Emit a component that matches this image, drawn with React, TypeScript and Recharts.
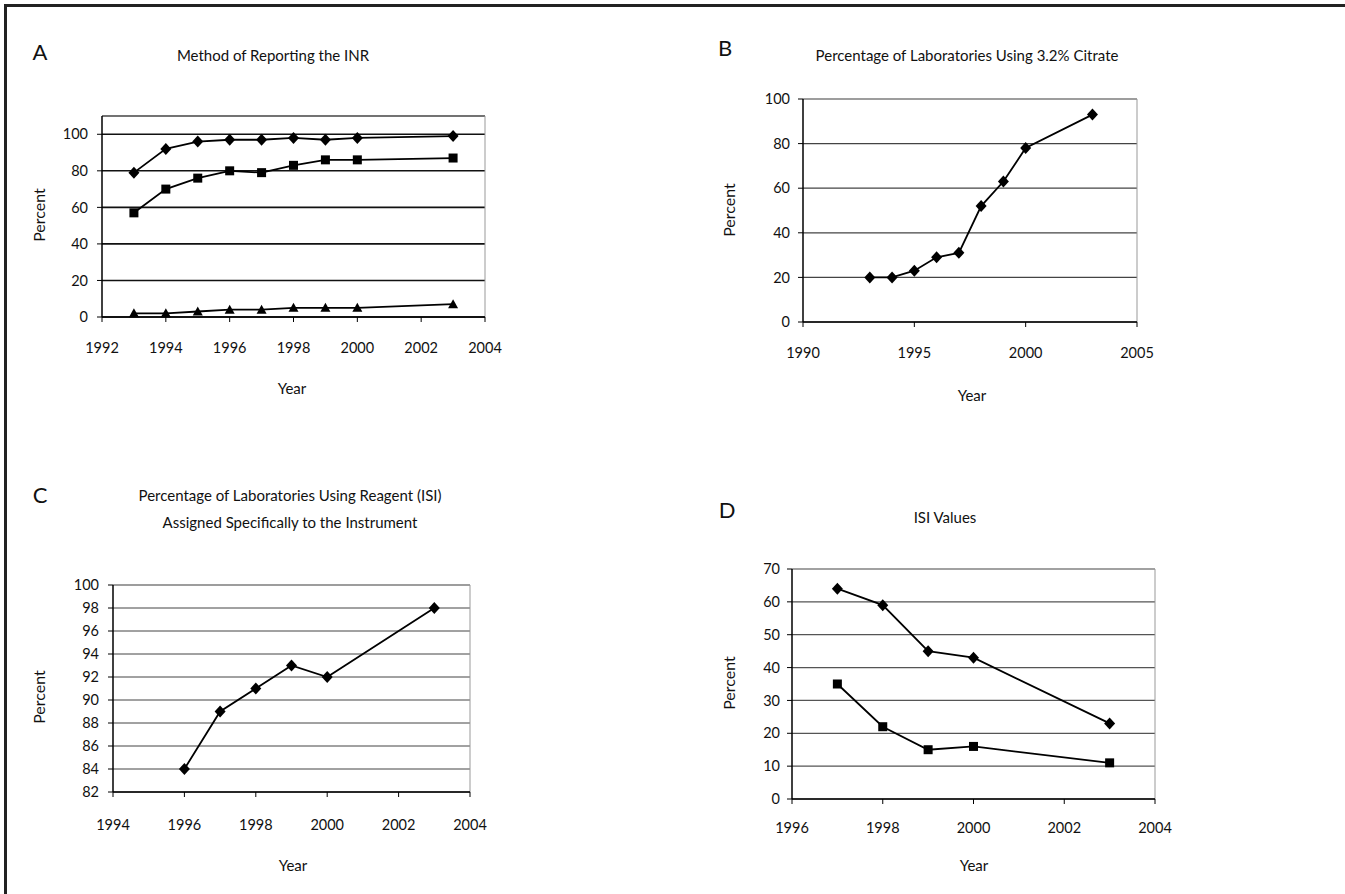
import React from 'react'
import { LineChart, Line, XAxis, YAxis, CartesianGrid, ReferenceLine } from 'recharts'

// Panel A: method of reporting the INR
const inrYears = [1993, 1994, 1995, 1996, 1997, 1998, 1999, 2000, 2003]
const inrDiamond = [79, 92, 96, 97, 97, 98, 97, 98, 99]
const inrSquare = [57, 70, 76, 80, 79, 83, 86, 86, 87]
const inrTriangle = [2, 2, 3, 4, 4, 5, 5, 5, 7]
const inrXTicks = [1992, 1994, 1996, 1998, 2000, 2002, 2004]
const inrYTicks = [0, 20, 40, 60, 80, 100]

// Panel B: 3.2% citrate
const citrateYears = [1993, 1994, 1995, 1996, 1997, 1998, 1999, 2000, 2003]
const citrateValues = [20, 20, 23, 29, 31, 52, 63, 78, 93]
const citrateXTicks = [1990, 1995, 2000, 2005]
const citrateYTicks = [0, 20, 40, 60, 80, 100]

// Panel C: reagent ISI assigned to the instrument
const reagentYears = [1996, 1997, 1998, 1999, 2000, 2003]
const reagentValues = [84, 89, 91, 93, 92, 98]
const reagentXTicks = [1994, 1996, 1998, 2000, 2002, 2004]
const reagentYTicks = [82, 84, 86, 88, 90, 92, 94, 96, 98, 100]

// Panel D: ISI values
const isiYears = [1997, 1998, 1999, 2000, 2003]
const isiDiamond = [64, 59, 45, 43, 23]
const isiSquare = [35, 22, 15, 16, 11]
const isiXTicks = [1996, 1998, 2000, 2002, 2004]
const isiYTicks = [0, 10, 20, 30, 40, 50, 60, 70]

const inrData = inrYears.map((year, i) => ({
  year,
  diamond: inrDiamond[i],
  square: inrSquare[i],
  triangle: inrTriangle[i],
}))
const citrateData = citrateYears.map((year, i) => ({ year, diamond: citrateValues[i] }))
const reagentData = reagentYears.map((year, i) => ({ year, diamond: reagentValues[i] }))
const isiData = isiYears.map((year, i) => ({ year, diamond: isiDiamond[i], square: isiSquare[i] }))

const FONT = 'Lato, "Open Sans", sans-serif'

const renderDiamond = (props: any) => {
  const { cx, cy, index } = props
  if (cx == null || cy == null) return <g key={index} />
  return <path key={index} d={`M${cx},${cy - 6}L${cx + 5.5},${cy}L${cx},${cy + 6}L${cx - 5.5},${cy}Z`} fill="#000" />
}

const renderSquare = (props: any) => {
  const { cx, cy, index } = props
  if (cx == null || cy == null) return <g key={index} />
  return <rect key={index} x={cx - 4.5} y={cy - 4.5} width={9} height={9} fill="#000" />
}

const renderTriangle = (props: any) => {
  const { cx, cy, index } = props
  if (cx == null || cy == null) return <g key={index} />
  return <path key={index} d={`M${cx},${cy - 5}L${cx + 5},${cy + 4}L${cx - 5},${cy + 4}Z`} fill="#000" />
}

const markers: Record<string, (p: any) => React.ReactElement> = {
  diamond: renderDiamond,
  square: renderSquare,
  triangle: renderTriangle,
}

type Box = { left: number; top: number; right: number; bottom: number }

function Panel(props: {
  box: Box
  data: any[]
  series: string[]
  xDomain: [number, number]
  xTicks: number[]
  yDomain: [number, number]
  yTicks: number[]
  gridColor: string
  gridWidth: number
  yTickMargin: number
  xTickMargin: number
}) {
  const { box, data, series, xDomain, xTicks, yDomain, yTicks } = props
  const yAxisW = 50
  const xAxisH = 40
  const m = { left: 20, top: 20, right: 20, bottom: 10 }
  const width = box.right - box.left + m.left + m.right + yAxisW
  const height = box.bottom - box.top + m.top + m.bottom + xAxisH
  const tick = { fill: '#111', fontSize: 14.5, fontFamily: FONT }
  return (
    <div style={{ position: 'absolute', left: box.left - m.left - yAxisW, top: box.top - m.top }}>
      <LineChart width={width} height={height} data={data} margin={m}>
        <CartesianGrid vertical={false} stroke={props.gridColor} strokeWidth={props.gridWidth} />
        <ReferenceLine y={yDomain[1]} stroke="#999" strokeWidth={1} />
        <ReferenceLine x={xDomain[1]} stroke="#999" strokeWidth={1} />
        <XAxis
          type="number"
          dataKey="year"
          domain={xDomain}
          ticks={xTicks}
          height={xAxisH}
          tick={tick}
          tickSize={5}
          tickMargin={props.xTickMargin}
          tickLine={{ stroke: '#000' }}
          axisLine={{ stroke: '#000', strokeWidth: 1.5 }}
          interval={0}
        />
        <YAxis
          type="number"
          domain={yDomain}
          ticks={yTicks}
          width={yAxisW}
          tick={tick}
          tickSize={5}
          tickMargin={props.yTickMargin}
          tickLine={{ stroke: '#000' }}
          axisLine={{ stroke: '#000', strokeWidth: 1.5 }}
          interval={0}
        />
        {series.map((s) => (
          <Line
            key={s}
            type="linear"
            dataKey={s}
            stroke="#000"
            strokeWidth={1.8}
            dot={markers[s]}
            activeDot={false}
            isAnimationActive={false}
          />
        ))}
      </LineChart>
    </div>
  )
}

function Txt(props: { x: number; y: number; size?: number; rotate?: boolean; children: React.ReactNode }) {
  return (
    <div
      style={{
        position: 'absolute',
        left: props.x,
        top: props.y,
        transform: `translate(-50%, -50%)${props.rotate ? ' rotate(-90deg)' : ''}`,
        fontFamily: FONT,
        fontSize: props.size ?? 15,
        color: '#111',
        whiteSpace: 'nowrap',
        lineHeight: 1,
      }}
    >
      {props.children}
    </div>
  )
}

export default function App() {
  return (
    <div style={{ position: 'absolute', left: 0, top: 0, width: 1345, height: 894, background: '#fff', overflow: 'hidden' }}>
      <div
        style={{
          position: 'absolute',
          left: 4,
          top: 4,
          right: 0,
          bottom: 0,
          borderLeft: '3px solid #222',
          borderTop: '3px solid #222',
        }}
      />

      {/* A */}
      <Txt x={40} y={52} size={22}>A</Txt>
      <Txt x={273} y={55}>Method of Reporting the INR</Txt>
      <Txt x={39} y={215} size={16} rotate>Percent</Txt>
      <Txt x={292} y={388}>Year</Txt>
      <Panel
        box={{ left: 102, top: 116, right: 485, bottom: 317 }}
        data={inrData}
        series={['diamond', 'square', 'triangle']}
        xDomain={[1992, 2004]}
        xTicks={inrXTicks}
        yDomain={[0, 110]}
        yTicks={inrYTicks}
        gridColor="#111"
        gridWidth={1.6}
        yTickMargin={9}
        xTickMargin={21}
      />

      {/* B */}
      <Txt x={725} y={48} size={22}>B</Txt>
      <Txt x={967} y={55}>Percentage of Laboratories Using 3.2% Citrate</Txt>
      <Txt x={729} y={210} size={16} rotate>Percent</Txt>
      <Txt x={972} y={395}>Year</Txt>
      <Panel
        box={{ left: 803, top: 99, right: 1137, bottom: 322 }}
        data={citrateData}
        series={['diamond']}
        xDomain={[1990, 2005]}
        xTicks={citrateXTicks}
        yDomain={[0, 100]}
        yTicks={citrateYTicks}
        gridColor="#444"
        gridWidth={1.2}
        yTickMargin={8}
        xTickMargin={21}
      />

      {/* C */}
      <Txt x={40} y={495} size={22}>C</Txt>
      <Txt x={290} y={495}>Percentage of Laboratories Using Reagent (ISI)</Txt>
      <Txt x={290} y={522}>Assigned Specifically to the Instrument</Txt>
      <Txt x={39} y={697} size={16} rotate>Percent</Txt>
      <Txt x={293} y={865}>Year</Txt>
      <Panel
        box={{ left: 113, top: 585, right: 470, bottom: 792 }}
        data={reagentData}
        series={['diamond']}
        xDomain={[1994, 2004]}
        xTicks={reagentXTicks}
        yDomain={[82, 100]}
        yTicks={reagentYTicks}
        gridColor="#444"
        gridWidth={1}
        yTickMargin={9}
        xTickMargin={23}
      />

      {/* D */}
      <Txt x={727} y={510} size={22}>D</Txt>
      <Txt x={945} y={517}>ISI Values</Txt>
      <Txt x={729} y={683} size={16} rotate>Percent</Txt>
      <Txt x={974} y={865}>Year</Txt>
      <Panel
        box={{ left: 792, top: 569, right: 1155, bottom: 799 }}
        data={isiData}
        series={['diamond', 'square']}
        xDomain={[1996, 2004]}
        xTicks={isiXTicks}
        yDomain={[0, 70]}
        yTicks={isiYTicks}
        gridColor="#555"
        gridWidth={1.2}
        yTickMargin={7}
        xTickMargin={19}
      />
    </div>
  )
}
